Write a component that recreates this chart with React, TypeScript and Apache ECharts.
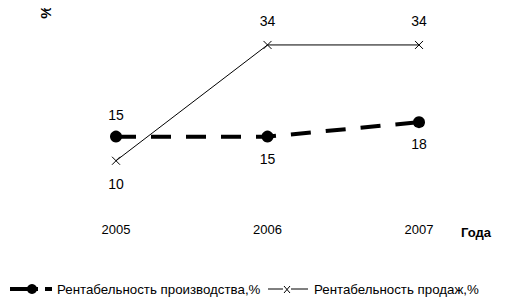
import React, { useEffect, useRef } from "react";
import * as echarts from "echarts";

const years = ["2005", "2006", "2007"];
const production = [15, 15, 18];
const sales = [10, 34, 34];
const productionName = "Рентабельность производства,%";
const salesName = "Рентабельность продаж,%";
const productionLabelPos = ["top", "bottom", "bottom"];
const salesLabelPos = ["bottom", "top", "top"];

const FONT = "'Liberation Sans', Arial, sans-serif";
const CROSS = "path://M0,0L10,10M10,0L0,10";

export default function App() {
  const ref = useRef<HTMLDivElement>(null);
  useEffect(() => {
    const chart = echarts.init(ref.current!, null, { renderer: "svg" });
    chart.setOption({
      animation: false,
      backgroundColor: "#ffffff",
      grid: { left: 116, right: 92, top: 16, bottom: 99 },
      xAxis: {
        type: "category",
        data: years,
        boundaryGap: false,
        axisLine: { show: false },
        axisTick: { show: false },
        axisLabel: { color: "#000", fontFamily: FONT, fontSize: 13, margin: 14 },
        splitLine: { show: false },
      },
      yAxis: {
        type: "value",
        min: 0,
        max: 40,
        show: false,
      },
      series: [
        {
          name: productionName,
          type: "line",
          data: production.map((v, i) => ({
            value: v,
            label: { position: productionLabelPos[i] },
          })),
          symbol: "circle",
          symbolSize: 12,
          itemStyle: { color: "#000" },
          lineStyle: { color: "#000", width: 4, type: [20, 15] },
          label: {
            show: true,
            color: "#000",
            fontFamily: FONT,
            fontSize: 14,
            distance: 9,
          },
          z: 3,
        },
        {
          name: salesName,
          type: "line",
          data: sales.map((v, i) => ({
            value: v,
            label: { position: salesLabelPos[i] },
          })),
          symbol: CROSS,
          symbolSize: 8,
          itemStyle: { color: "none", borderColor: "#000", borderWidth: 1 },
          lineStyle: { color: "#000", width: 1 },
          label: {
            show: true,
            color: "#000",
            fontFamily: FONT,
            fontSize: 14,
            distance: 10,
          },
          z: 2,
        },
      ],
      graphic: [
        {
          type: "text",
          x: 45,
          y: 12,
          rotation: Math.PI / 2,
          style: {
            text: "%",
            fill: "#000",
            font: `bold 15px ${FONT}`,
            align: "center",
            verticalAlign: "middle",
          },
        },
        {
          type: "text",
          x: 476,
          y: 232,
          style: {
            text: "Года",
            fill: "#000",
            font: `bold 13px ${FONT}`,
            align: "center",
            verticalAlign: "middle",
          },
        },
        {
          type: "line",
          shape: { x1: 10, y1: 289, x2: 38, y2: 289 },
          style: { stroke: "#000", lineWidth: 4 },
        },
        {
          type: "circle",
          shape: { cx: 32, cy: 289, r: 5 },
          style: { fill: "#000" },
        },
        {
          type: "line",
          shape: { x1: 45, y1: 289, x2: 52, y2: 289 },
          style: { stroke: "#000", lineWidth: 4 },
        },
        {
          type: "text",
          x: 57,
          y: 289,
          style: {
            text: productionName,
            fill: "#000",
            font: `13.3px ${FONT}`,
            verticalAlign: "middle",
          },
        },
        {
          type: "line",
          shape: { x1: 268, y1: 289, x2: 308, y2: 289 },
          style: { stroke: "#000", lineWidth: 1 },
        },
        {
          type: "rect",
          shape: { x: 283, y: 284, width: 8, height: 10 },
          style: { fill: "#fff" },
        },
        {
          type: "line",
          shape: { x1: 284, y1: 286, x2: 290, y2: 293 },
          style: { stroke: "#000", lineWidth: 1 },
        },
        {
          type: "line",
          shape: { x1: 290, y1: 286, x2: 284, y2: 293 },
          style: { stroke: "#000", lineWidth: 1 },
        },
        {
          type: "text",
          x: 314,
          y: 289,
          style: {
            text: salesName,
            fill: "#000",
            font: `13.3px ${FONT}`,
            verticalAlign: "middle",
          },
        },
      ],
    });
    return () => chart.dispose();
  }, []);
  return <div ref={ref} style={{ width: 511, height: 308, margin: -8 }} />;
}
